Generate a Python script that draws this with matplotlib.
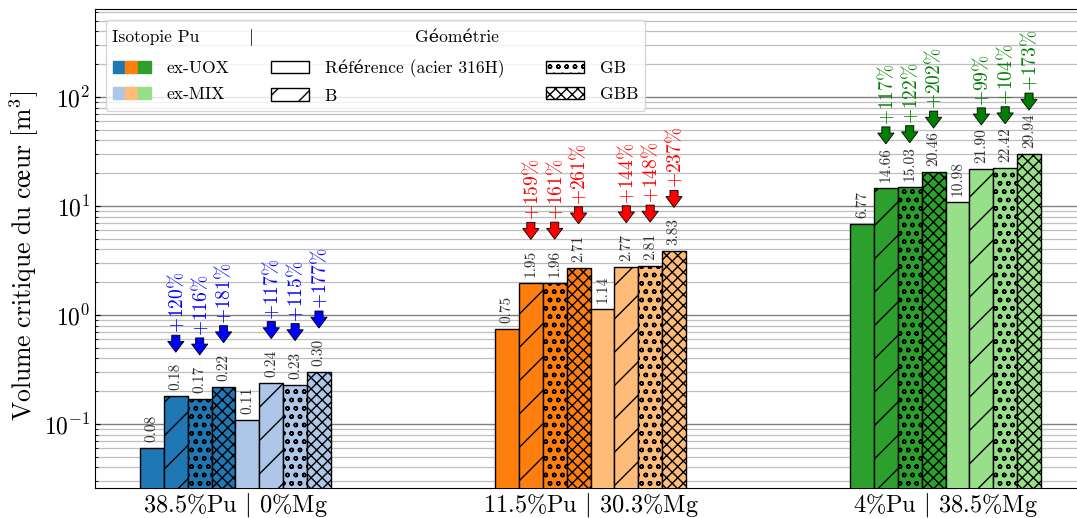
import matplotlib
matplotlib.use("Agg")
from matplotlib import pyplot as plt
from matplotlib.patches import Patch
from matplotlib.legend_handler import HandlerTuple

plt.rcParams["font.family"] = ["cmr10", "DejaVu Serif"]
plt.rcParams["mathtext.fontset"] = "cm"
plt.rcParams["axes.unicode_minus"] = False
plt.rcParams["axes.formatter.use_mathtext"] = True

groups = ["38.5%Pu $|$ 0%Mg", "11.5%Pu $|$ 30.3%Mg", "4%Pu $|$ 38.5%Mg"]
geometries = ["Référence (acier 316H)", "B", "GB", "GBB"]
isotopies = ["ex-UOX", "ex-MIX"]

# critical core volume [m3], per group: ex-UOX (ref, B, GB, GBB) then ex-MIX
volumes = [
    [0.06, 0.18, 0.17, 0.22, 0.11, 0.24, 0.23, 0.30],
    [0.75, 1.95, 1.96, 2.71, 1.14, 2.77, 2.81, 3.83],
    [6.77, 14.66, 15.03, 20.46, 10.98, 21.90, 22.42, 29.94],
]
value_labels = [
    ["0.08", "0.18", "0.17", "0.22", "0.11", "0.24", "0.23", "0.30"],
    ["0.75", "1.95", "1.96", "2.71", "1.14", "2.77", "2.81", "3.83"],
    ["6.77", "14.66", "15.03", "20.46", "10.98", "21.90", "22.42", "29.94"],
]
# gain vs reference, for B, GB, GBB bars (None for reference)
gains = [
    [None, 120, 116, 181, None, 117, 115, 177],
    [None, 159, 161, 261, None, 144, 148, 237],
    [None, 117, 122, 202, None, 99, 104, 173],
]

dark = ["#1f77b4", "#ff7f0e", "#2ca02c"]
light = ["#aec7e8", "#ffbb78", "#98df8a"]
gain_colors = ["blue", "red", "green"]
hatches = [None, "/", "oo", "xxx"]

PT = 72 / 100  # px -> points

fig = plt.figure(figsize=(10.77, 5.18), dpi=100)
ax = fig.add_axes([95 / 1077, 30 / 518, (1086 - 95) / 1077, (488 - 9) / 518])
ax.set_yscale("log")

w = 0.0672
for i in range(len(groups)):
    for j in range(8):
        x = i + (j - 3.5) * w
        h = volumes[i][j]
        color = dark[i] if j < 4 else light[i]
        ax.bar(x, h, width=w, color=color, edgecolor="black", linewidth=1,
               hatch=hatches[j % 4], zorder=3)
        ax.annotate(value_labels[i][j], xy=(x, h), xytext=(0, 6 * PT),
                    textcoords="offset points", rotation=90, ha="center",
                    va="bottom", fontsize=11, color="0.2", zorder=4)
        g = gains[i][j]
        if g is not None:
            ax.annotate("", xy=(x, h), xytext=(0, 61 * PT),
                        textcoords="offset points",
                        arrowprops=dict(arrowstyle="simple,head_length=0.6,head_width=0.9,tail_width=0.45",
                                        fc=gain_colors[i], ec="black", lw=0.6,
                                        shrinkA=0, shrinkB=44 * PT,
                                        mutation_scale=13), zorder=4)
            ax.annotate(r"$+\mathbf{%d}\%%$" % g, xy=(x, h), xytext=(0, 63 * PT),
                        textcoords="offset points", rotation=90, ha="center",
                        va="bottom", fontsize=14, color=gain_colors[i], zorder=4)

ax.set_ylim(0.0259, 641)
ax.set_xticks(range(len(groups)))
ax.set_xticklabels(groups, fontsize=17.5)
ax.tick_params(axis="x", length=0, pad=2)
ax.tick_params(axis="y", which="both", direction="in", labelsize=17)
ax.grid(True, axis="y", which="major", color="0.5", lw=1, zorder=0)
ax.grid(True, axis="y", which="minor", color="0.75", lw=0.9, zorder=0)
ax.set_axisbelow(True)
ax.set_ylabel(r"$\mathrm{Volume\ critique\ du\ c\oe ur\ [m^3]}$", fontsize=18.5)
ax.yaxis.set_label_coords(-0.054, 0.485)

# legend
handles = [
    tuple(Patch(color=c) for c in dark),
    tuple(Patch(color=c) for c in light),
    Patch(fc="white", ec="black"),
    Patch(fc="white", ec="black", hatch="/"),
    Patch(fc="white", ec="black", hatch="oo"),
    Patch(fc="white", ec="black", hatch="xxx"),
]
labels = [isotopies[0], isotopies[1], geometries[0], geometries[1],
          geometries[2], geometries[3]]
ax.legend(handles, labels, ncol=3, loc="upper left", fontsize=12.6,
          title=" ", title_fontsize=17,
          handler_map={tuple: HandlerTuple(ndivide=None, pad=0)},
          handlelength=2.2, handletextpad=0.9, columnspacing=2.35,
          labelspacing=0.6, borderaxespad=0.6)
fig.text(112 / 1077, 1 - 37 / 518, "Isotopie Pu", fontsize=12.6, va="center", zorder=10)
fig.text(250 / 1077, 1 - 37 / 518, "$|$", fontsize=12.6, va="center", ha="center", zorder=10)
fig.text(457 / 1077, 1 - 37 / 518, "Géométrie", fontsize=12.6, va="center", ha="center", zorder=10)

fig.savefig("out.png", dpi=100)
